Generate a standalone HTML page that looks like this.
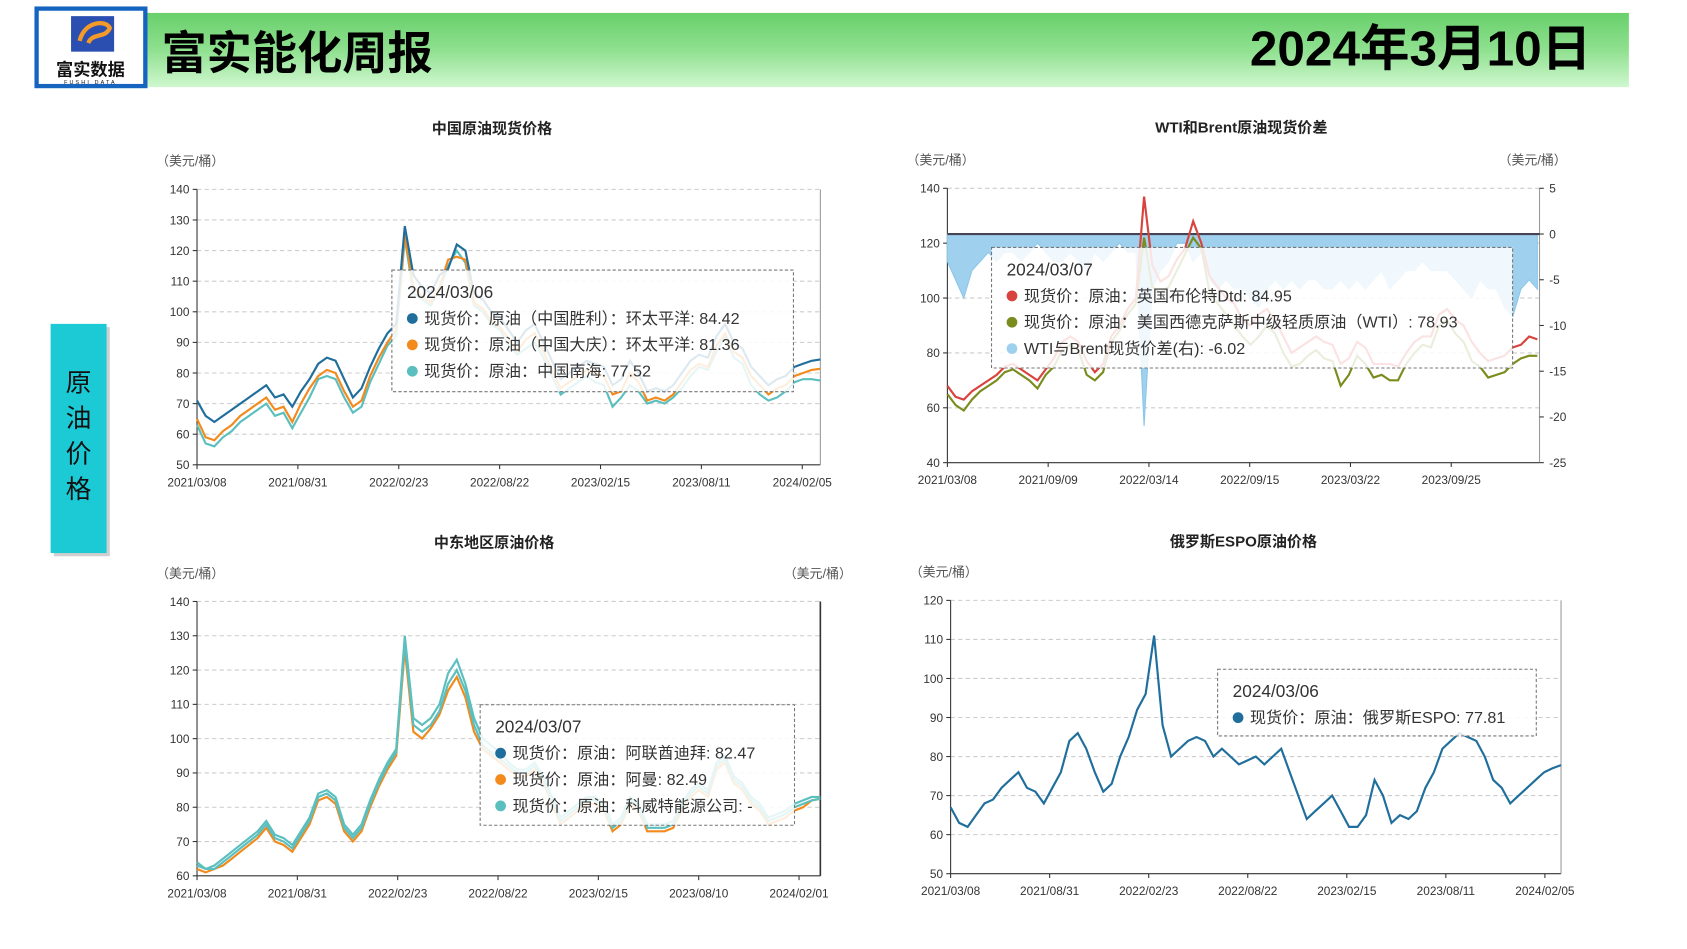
<!DOCTYPE html>
<html><head><meta charset="utf-8">
<style>
html,body{margin:0;padding:0;background:#fff;width:1687px;height:949px;overflow:hidden}
svg{display:block;font-family:"Liberation Sans","Noto Sans CJK SC",sans-serif}
</style></head>
<body>
<svg id="root" width="1687" height="949" viewBox="0 0 1567 882" preserveAspectRatio="none">
<defs>
<linearGradient id="hdr" x1="0" y1="0" x2="0" y2="1"><stop offset="0" stop-color="#68d06a"/><stop offset="0.5" stop-color="#8fe08f"/><stop offset="1" stop-color="#cff7cf"/></linearGradient>
</defs>
<g>
<rect x="137" y="12" width="1376" height="69" fill="url(#hdr)"/>
<rect x="34" y="8" width="101" height="72" fill="#fff" stroke="#1565c0" stroke-width="4"/>
<rect x="66" y="15" width="40" height="33" fill="#2a4fb0"/>
<path d="M74 38 C78 20,98 18,102 26 C98 36,86 30,82 40" fill="none" stroke="#f39a2b" stroke-width="4"/>
<text x="84" y="70" font-size="16" font-weight="bold" text-anchor="middle" fill="#111">富实数据</text>
<text x="84" y="78" font-size="5" text-anchor="middle" fill="#111" letter-spacing="2">FUSHI DATA</text>
<text x="150" y="64" font-size="42" font-weight="bold" fill="#000">富实能化周报</text>
<text x="1478" y="61" font-size="46" font-weight="bold" fill="#000" text-anchor="end">2024年3月10日</text>
</g>
<g>
<rect x="50" y="304" width="52" height="213" fill="#888" opacity="0.4"/>
<rect x="47" y="301" width="52" height="213" fill="#1ccad6"/>
<text x="73" y="364" font-size="24" text-anchor="middle" fill="#111">原</text>
<text x="73" y="397" font-size="24" text-anchor="middle" fill="#111">油</text>
<text x="73" y="430" font-size="24" text-anchor="middle" fill="#111">价</text>
<text x="73" y="463" font-size="24" text-anchor="middle" fill="#111">格</text>
</g>
<g id="charts"></g>
</svg>
<script>
// Chart 1: China crude spot
const c1Ticks = ["2021/03/08","2021/08/31","2022/02/23","2022/08/22","2023/02/15","2023/08/11","2024/02/05"];
const c1Shengli = [71,66,64,66,68,70,72,74,76,72,73,69,74,78,83,85,84,78,72,75,82,88,93,96,128,112,108,106,112,114,122,120,106,104,100,98,94,90,94,96,90,84,78,80,82,84,83,82,76,78,84,80,74,75,74,76,80,84,86,85,92,96,90,88,82,79,76,78,79,82,83,84,84.42];
const c1Daqing = [65,59,58,61,63,66,68,70,72,68,69,64,70,75,79,81,80,74,69,71,79,85,90,94,125,108,105,103,108,117,118,117,103,101,97,95,91,87,91,93,87,81,75,77,79,81,80,79,73,74,80,77,71,72,71,73,77,81,83,82,89,93,87,85,79,76,73,75,76,79,80,81,81.36];
const c1Nanhai = [63,57,56,59,61,64,66,68,70,66,67,62,67,72,78,79,78,72,67,69,77,83,89,92,124,106,104,102,107,115,120,116,102,100,96,94,89,86,88,90,85,79,73,75,77,79,77,76,69,72,76,74,70,71,70,72,75,79,82,81,87,92,85,83,76,73,71,72,74,77,78,78,77.52];
// Chart 2: WTI & Brent
const c2Ticks = ["2021/03/08","2021/09/09","2022/03/14","2022/09/15","2023/03/22","2023/09/25"];
const c2Brent = [68,64,63,66,68,70,72,75,76,74,72,70,74,78,84,86,84,77,73,76,86,90,96,100,137,112,106,108,114,118,128,120,108,104,100,98,92,90,94,96,92,86,80,82,84,86,84,83,76,78,84,82,76,76,76,75,80,84,86,86,94,96,92,90,84,80,77,78,79,82,83,86,84.95];
const c2Wti = [65,61,59,63,66,68,70,73,74,72,70,67,72,75,81,83,81,72,70,73,84,88,94,98,122,104,102,104,110,116,122,118,102,98,94,90,86,83,86,90,87,80,75,76,79,81,78,77,68,72,79,76,71,72,70,70,76,80,83,82,90,92,87,84,77,75,71,72,73,76,78,79,78.93];
const c2Spread = [-3,-5,-7,-4,-3,-2,-3,-2,-2,-3,-2,-1,-2,-3,-3,-2,-3,-4,-2,-3,-2,-1,-2,-2,-21,-6,-4,-3,-1,-1,-3,-2,-5,-6,-5,-6,-6,-7,-8,-6,-5,-6,-5,-6,-5,-5,-6,-6,-5,-6,-5,-6,-5,-4,-6,-5,-4,-4,-3,-4,-4,-4,-5,-6,-7,-5,-6,-6,-8,-9,-6,-5,-6.02];
// Chart 3: Middle East
const c3Ticks = ["2021/03/08","2021/08/31","2022/02/23","2022/08/22","2023/02/15","2023/08/10","2024/02/01"];
const c3Dubai = [63,62,62,64,66,68,70,72,75,71,70,68,72,76,83,84,82,74,71,74,81,87,92,96,128,104,102,104,108,116,120,114,104,98,96,94,92,90,90,92,88,82,76,78,80,82,82,80,74,76,82,80,74,74,74,75,80,84,86,84,92,94,88,86,82,80,76,77,78,80,81,82,82.47];
const c3Oman = [62,61,62,63,65,67,69,71,74,70,69,67,71,75,82,83,81,73,70,73,80,86,91,95,126,102,100,103,107,114,118,112,102,97,95,93,91,89,89,91,87,81,75,77,79,81,81,79,73,75,81,79,73,73,73,74,79,83,85,83,91,93,87,85,81,79,75,76,77,79,80,82,82.49];
const c3Kuwait = [64,62,63,65,67,69,71,73,76,72,71,69,73,77,84,85,83,75,72,75,82,88,93,97,130,106,104,106,110,119,123,116,106,100,98,96,93,91,91,93,89,83,77,79,81,83,83,81,75,77,83,81,75,75,75,76,81,85,87,85,93,95,89,87,83,81,77,78,79,81,82,83,83];
// Chart 4: Russia ESPO
const c4Ticks = ["2021/03/08","2021/08/31","2022/02/23","2022/08/22","2023/02/15","2023/08/11","2024/02/05"];
const c4Espo = [67,63,62,65,68,69,72,74,76,72,71,68,72,76,84,86,82,76,71,73,80,85,92,96,111,88,80,82,84,85,84,80,82,80,78,79,80,78,80,82,76,70,64,66,68,70,66,62,62,65,74,70,63,65,64,66,72,76,82,84,86,85,84,80,74,72,68,70,72,74,76,77,77.81];

const NS="http://www.w3.org/2000/svg";
const root=document.getElementById('charts');
function mk(tag,attrs,parent){const e=document.createElementNS(NS,tag);for(const k in attrs)e.setAttribute(k,attrs[k]);(parent||root).appendChild(e);return e;}
function txt(s,attrs,parent){const e=mk('text',attrs,parent);e.textContent=s;return e;}

function drawChart(cfg){
  const g=mk('g',{});
  
  
  const {x0,x1,y0,y1,min,max,step}=cfg;
  const ys=v=>y1-(v-min)/(max-min)*(y1-y0);
  const t=txt(cfg.title,{x:cfg.tx,y:cfg.ty,'font-size':14,'font-weight':'bold','text-anchor':'middle',fill:'#222'},g);
  
  
  const u=txt('（美元/桶）',{x:x0-38,y:y0-22,'font-size':12,fill:'#555'},g);
  
  
  for(let v=min;v<=max;v+=step){
    const y=ys(v);
    if(v>min) mk('line',{x1:x0,x2:x1,y1:y,y2:y,stroke:'#ccc','stroke-dasharray':'4,3'},g);
    mk('line',{x1:x0-4,x2:x0,y1:y,y2:y,stroke:'#333'},g);
    const l=txt(String(v),{x:x0-7,y:y+4,'font-size':11,'text-anchor':'end',fill:'#333'},g);
    
    
  }
  mk('line',{x1:x0,x2:x0,y1:y0,y2:y1,stroke:'#333'},g);
  mk('line',{x1:x0,x2:x1,y1:y1,y2:y1,stroke:'#333'},g);
  mk('line',{x1:x1,x2:x1,y1:y0,y2:y1,stroke:cfg.rightDark?'#333':'#999','stroke-width':cfg.rightDark?1.5:1},g);
  const tickGap=cfg.tickGap;
  cfg.ticks.forEach((s,i)=>{
    const x=x0+i*tickGap;
    mk('line',{x1:x,x2:x,y1:y1,y2:y1+4,stroke:'#333'},g);
    const l=txt(s,{x:x,y:y1+20,'font-size':11,'text-anchor':'middle',fill:'#333'},g);
    
    
  });
  let xs=(i,n)=>x0+i/(n-1)*(cfg.xEnd-x0);
  if(cfg.right){
    const r=cfg.right; const yr=v=>y1-(v-r.min)/(r.max-r.min)*(y1-y0);
    let d=`M${xs(0,r.data.length)},${yr(0)}`;
    r.data.forEach((v,i)=>{d+=` L${xs(i,r.data.length).toFixed(1)},${yr(v).toFixed(1)}`;});
    d+=` L${xs(r.data.length-1,r.data.length)},${yr(0)} Z`;
    const a=mk('path',{d:d,fill:'#9fd0ee',stroke:'#8cc6ea','stroke-width':1},g);
    
    
    mk('line',{x1:x0,x2:x1,y1:yr(0),y2:yr(0),stroke:'#445','stroke-width':2},g);
    for(let v=r.min;v<=r.max;v+=5){
      const y=yr(v);
      mk('line',{x1:x1,x2:x1+4,y1:y,y2:y,stroke:'#333'},g);
      const l=txt(String(v),{x:x1+9,y:y+4,'font-size':11,fill:'#333'},g);
      
      
    }
    const u2=txt('（美元/桶）',{x:x1-38,y:y0-22,'font-size':12,fill:'#555'},g);
    
    
  }
  if(cfg.rightUnit){
    const u2=txt('（美元/桶）',{x:x1-34,y:y0-22,'font-size':12,fill:'#555'},g);
    
    
  }
  cfg.series.forEach(s=>{
    const pts=s.data.map((v,i)=>xs(i,s.data.length).toFixed(1)+','+ys(v).toFixed(1)).join(' ');
    const p=mk('polyline',{points:pts,fill:'none',stroke:s.color,'stroke-width':2},g);
    
    
  });
  const tb=cfg.tip;
  const tg=mk('g',{},g);
  
  
  mk('rect',{x:tb.x,y:tb.y,width:tb.w,height:tb.h,fill:'rgba(255,255,255,0.85)',stroke:'#777','stroke-dasharray':'3,2'},tg);
  txt(tb.date,{x:tb.x+14,y:tb.y+26,'font-size':16,fill:'#333'},tg);
  tb.rows.forEach((r,i)=>{
    const y=tb.y+50+i*24.5;
    mk('circle',{cx:tb.x+19,cy:y-5,r:5,fill:r[0]},tg);
    txt(r[1],{x:tb.x+30,y:y,'font-size':15,fill:'#333'},tg);
  });
}

drawChart({name:'china-crude-chart',title:'中国原油现货价格',tx:457,ty:124,x0:183,x1:762,y0:176,y1:432,min:50,max:140,step:10,
  ticks:c1Ticks,tickGap:93.7,xEnd:762,
  series:[{id:'line-nanhai',data:c1Nanhai,color:'#5bbfbf'},{id:'line-daqing',data:c1Daqing,color:'#f28a1c'},{id:'line-shengli',data:c1Shengli,color:'#1f6e9c'}],
  tip:{x:364,y:251,w:373,h:113,date:'2024/03/06',rows:[['#1f6e9c','现货价：原油（中国胜利）：环太平洋: 84.42'],['#f28a1c','现货价：原油（中国大庆）：环太平洋: 81.36'],['#5bbfbf','现货价：原油：中国南海: 77.52']]}});

drawChart({name:'wti-brent-chart',title:'WTI和Brent原油现货价差',tx:1153,ty:123,x0:880,x1:1430,y0:175,y1:430,min:40,max:140,step:20,
  ticks:c2Ticks,tickGap:93.6,xEnd:1428,
  right:{min:-25,max:5,data:c2Spread},
  series:[{id:'line-wti',data:c2Wti,color:'#7a8c1e'},{id:'line-brent',data:c2Brent,color:'#d9433e'}],
  tip:{x:921,y:230,w:484,h:112,date:'2024/03/07',rows:[['#d9433e','现货价：原油：英国布伦特Dtd: 84.95'],['#7a8c1e','现货价：原油：美国西德克萨斯中级轻质原油（WTI）: 78.93'],['#9fd0ee','WTI与Brent现货价差(右): -6.02']]}});

drawChart({name:'middle-east-chart',title:'中东地区原油价格',tx:459,ty:509,x0:183,x1:762,y0:559,y1:814,min:60,max:140,step:10,
  ticks:c3Ticks,tickGap:93.2,xEnd:762,rightDark:true,rightUnit:true,
  series:[{id:'line-kuwait',data:c3Kuwait,color:'#5bbfbf'},{id:'line-oman',data:c3Oman,color:'#f28a1c'},{id:'line-dubai',data:c3Dubai,color:'#5bbfbf'}],
  tip:{x:446,y:655,w:292,h:112,date:'2024/03/07',rows:[['#1f6e9c','现货价：原油：阿联酋迪拜: 82.47'],['#f28a1c','现货价：原油：阿曼: 82.49'],['#5bbfbf','现货价：原油：科威特能源公司: -']]}});

drawChart({name:'russia-espo-chart',title:'俄罗斯ESPO原油价格',tx:1155,ty:508,x0:883,x1:1450,y0:558,y1:812,min:50,max:120,step:10,
  ticks:c4Ticks,tickGap:92,xEnd:1450,
  series:[{id:'line-espo',data:c4Espo,color:'#1f6e9c'}],
  tip:{x:1131,y:622,w:296,h:62,date:'2024/03/06',rows:[['#1f6e9c','现货价：原油：俄罗斯ESPO: 77.81']]}});
</script>
</body></html>
